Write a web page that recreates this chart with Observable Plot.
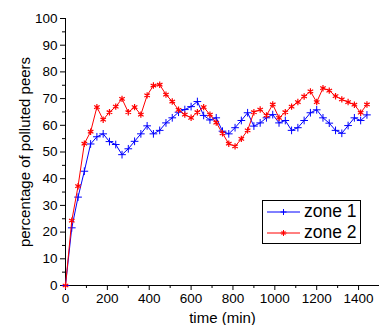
<!DOCTYPE html>
<html><head><meta charset="utf-8">
<script src="https://cdn.jsdelivr.net/npm/d3@7"></script>
<script src="https://cdn.jsdelivr.net/npm/@observablehq/plot@0.6"></script>
<style>
body{margin:0;background:#fff;font-family:"Liberation Sans",Arial,sans-serif;}
#wrap{position:relative;width:379px;height:325px;}
#legend{position:absolute;left:262px;top:200px;width:97px;height:42px;border:1px solid #000;background:#fff;font-size:17.5px;line-height:21px;}
#legend div{display:flex;align-items:center;height:21px;}
#legend svg{margin-left:4px;margin-right:4px;}
</style>
</head><body>
<div id="wrap"><div id="chart"></div>
<div id="legend">
<div><svg width="33" height="10"><line x1="0" y1="5" x2="33" y2="5" stroke="#0000ff"/><path d="M16.5,2V8M13.5,5H19.5" stroke="#0000ff"/></svg><span>zone 1</span></div>
<div><svg width="33" height="10"><line x1="0" y1="5" x2="33" y2="5" stroke="#ff0000"/><path d="M16.5,2V8M13.5,5H19.5M14.4,2.9L18.6,7.1M18.6,2.9L14.4,7.1" stroke="#ff0000"/></svg><span>zone 2</span></div>
</div>
</div>
<script>
const time = [0,30,60,90,120,150,180,210,240,270,300,330,360,390,420,450,480,510,540,570,600,630,660,690,720,750,780,810,840,870,900,930,960,990,1020,1050,1080,1110,1140,1170,1200,1230,1260,1290,1320,1350,1380,1410,1440];
const zone1 = [0,21.6,33.1,42.8,53,55.7,56.8,53.9,52.8,49,51.2,54,56.8,59.8,56.8,58.1,60.9,62.8,64.9,65.9,67,68.9,63.7,62,62.8,57.8,56.8,59.1,61.8,64.7,59.7,60.9,62.8,64,60.9,61.8,58.1,59.1,61.8,64.7,65.8,62.8,60.8,58.1,57,59.9,62.8,61.8,63.9];
const zone2 = [0,24.3,37.2,53.1,57.6,66.8,62.1,64.9,67,69.9,64.9,66.8,64,71.2,74.9,75.2,71.5,68.9,65.8,64,62.8,64.9,66.8,64,61,57,53.1,52.1,54.9,58.1,64.9,65.9,63.7,67.8,62.8,64.9,67,68.7,70.8,72.7,68.7,73.9,73,70.9,69.7,68.7,67.7,64.7,67.8];
const xMajor = [0,200,400,600,800,1000,1200,1400];
const xMinor = [100,300,500,700,900,1100,1300,1500];
const yMajor = [0,10,20,30,40,50,60,70,80,90,100];
const yMinor = [5,15,25,35,45,55,65,75,85,95];

const d1 = time.map((t,i)=>({t, v:zone1[i]}));
const d2 = time.map((t,i)=>({t, v:zone2[i]}));

const chart = Plot.plot({
  width: 379, height: 325,
  marginLeft: 65, marginRight: 0, marginTop: 18, marginBottom: 40,
  style: {fontSize: "14px", fontFamily: "'Liberation Sans', Arial, sans-serif", color: "#000", background: "#fff"},
  x: {domain: [0,1500]},
  y: {domain: [0,100]},
  marks: [
    Plot.axisX({ticks: xMinor, tickSize: 3, tickFormat: () => "", label: null}),
    Plot.axisX({ticks: xMajor, tickSize: 5, tickPadding: 3, fontSize: 13.5, tickFormat: d => String(d), label: null}),
    Plot.axisX({ticks: [], tickSize: 0, label: "time (min)", fontSize: 15, labelAnchor: "center", labelArrow: "none", labelOffset: 37}),
    Plot.axisY({ticks: yMinor, tickSize: 3, tickFormat: () => "", label: null}),
    Plot.axisY({ticks: yMajor, tickSize: 5, tickPadding: 3, fontSize: 13.5, tickFormat: d => String(d), label: null}),
    Plot.axisY({ticks: [], tickSize: 0, label: "percentage of polluted peers", fontSize: 15, labelAnchor: "center", labelArrow: "none", labelOffset: 46}),
    Plot.ruleX([0], {stroke: "#000"}),
    Plot.ruleY([0], {stroke: "#000"}),
    Plot.line(d1, {x: "t", y: "v", stroke: "#0000ff", strokeWidth: 1}),
    Plot.dot(d1, {x: "t", y: "v", stroke: "#0000ff", symbol: "plus", r: 2.6, strokeWidth: 1}),
    Plot.line(d2, {x: "t", y: "v", stroke: "#ff0000", strokeWidth: 1}),
    Plot.dot(d2, {x: "t", y: "v", stroke: "#ff0000", symbol: "asterisk", r: 3, strokeWidth: 1.2})
  ]
});
document.getElementById("chart").appendChild(chart);
</script>
</body></html>
